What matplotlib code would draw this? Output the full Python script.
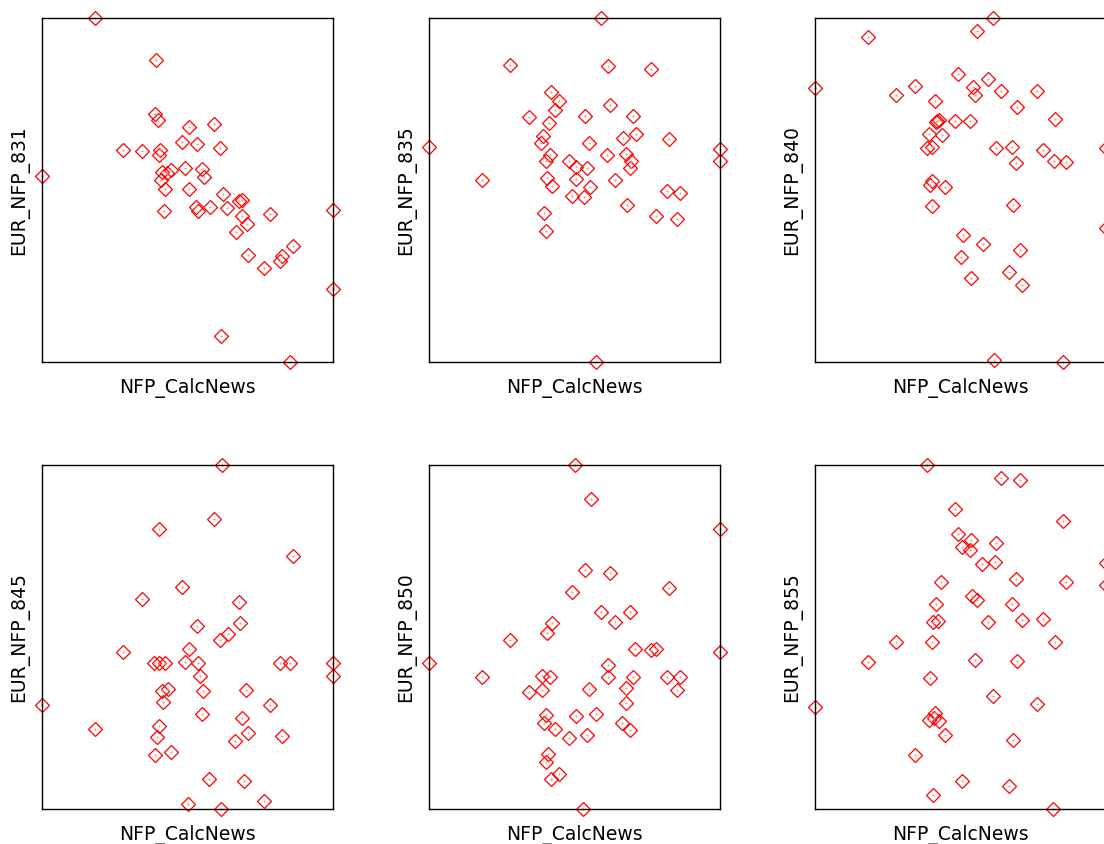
import matplotlib
matplotlib.use("Agg")
import matplotlib.pyplot as plt

# NFP_CalcNews vs EUR_NFP_xxx
news_831 = [-92, -31, -32, -29, 1, 26, -5, 9, 32, -64, -45, -27, -28, -25, -20, -16, -26, -22, -2, 14, 16, 1,
            -23, 8, 10, 22, 35, 39, 51, 54, 54, 59, 48, 82, 145, 60, 76, 94, 92, 105, 145, 33, 102, -145]
eur_831 = [172, 130, 76, 70, 63, 66, 48, 46, 42, 40, 39, 40, 35, 18, 17, 20, 10, 1, 22, 21, 13, 1,
           -20, -16, -20, -16, -3, -17, -10, -9, -25, -33, -41, -23, -19, -64, -77, -65, -70, -55, -98, -145, -171, 14]

news_835 = [25, -65, 32, 75, -24, -16, -20, 34, -46, 9, -26, 57, -32, -34, 47, 60, 93, -146, 13, 144, 144, -25, -29,
            -6, 0, 11, 31, 50, 55, 54, -93, -28, -23, 0, 14, 8, -3, 39, 91, 104, 51, 80, 101, -31, -29, 20]
eur_835 = [172, 125, 124, 121, 98, 89, 80, 85, 73, 74, 67, 74, 54, 47, 52, 56, 51, 43, 47, 41, 29, 35, 29,
           29, 23, 22, 35, 36, 29, 22, 10, 12, 4, 11, 3, -6, -5, 10, 0, -2, -14, -25, -28, -22, -40, -171]

news_840 = [31, 15, -93, -146, -3, 26, 11, 13, 39, 75, -65, -46, -26, 55, 93, -25, -24, -22, -6, 8, -32, -19, -34,
            -29, 34, 50, 81, 54, 92, 104, 144, -29, -31, -16, -29, 51, 1, 21, 58, -1, 47, 9, 60, 144, 32, 101]
eur_840 = [172, 159, 153, 102, 116, 111, 103, 95, 99, 99, 95, 104, 89, 83, 71, 68, 69, 70, 69, 69, 56, 55, 42,
           43, 42, 43, 40, 27, 29, 28, 42, 9, 5, 3, -15, -14, -44, -53, -59, -66, -81, -87, -94, -37, -169, -171]

news_845 = [34, 26, -28, 105, -5, -45, 51, 52, 9, 32, 40, -64, 1, -33, -28, -22, -2, 10, 12, 92, 102, 145, 145,
            -25, -19, -24, 15, 58, -145, 82, 14, 54, -28, -30, -92, 60, 47, 94, -32, -16, 21, 56, 76, 0, 33]
eur_845 = [172, 118, 108, 81, 50, 38, 35, 14, 11, -2, 3, -14, -11, -25, -25, -25, -24, -25, -38, -25, -25, -25, -38,
           -53, -51, -64, -53, -52, -67, -67, -76, -80, -88, -99, -91, -95, -103, -98, -117, -114, -141, -143, -163, -166, -171]

news_850 = [-1, 15, 144, 9, 34, 93, -3, 25, 54, 39, -23, -28, -65, 59, 75, 80, 144, -146, 32, 32, 57, -33, -25,
            -93, 91, 104, -33, -46, 13, 50, 101, 50, -29, -31, -20, 0, 20, 46, 54, -6, 11, -27, -29, -16, -24, 7]
eur_850 = [172, 138, 108, 67, 64, 49, 45, 25, 25, 15, 14, 4, -2, -11, -12, -11, -14, -25, -27, -39, -39, -38, -39,
           -39, -39, -39, -52, -54, -51, -50, -52, -65, -77, -85, -91, -78, -76, -85, -92, -100, -97, -116, -124, -136, -141, -171]

news_855 = [-34, 39, 58, -6, 101, -3, 9, 0, 8, 34, 20, 33, 144, 144, -20, 54, 104, 10, 15, -25, 50, -28, -23, 26,
            60, 81, -65, -29, 93, -93, 13, 55, -31, -146, 31, 75, -26, -32, -22, -27, -16, 51, -46, 0, 47, -28, 91]
eur_855 = [172, 159, 157, 128, 116, 103, 97, 90, 87, 94, 73, 75, 74, 52, 55, 58, 55, 41, 37, 33, 33, 15, 16, 15,
           17, 18, -4, -4, -4, -24, -22, -23, -40, -69, -58, -66, -75, -82, -83, -80, -97, -102, -117, -143, -148, -157, -171]

panels = [("EUR_NFP_831", news_831, eur_831), ("EUR_NFP_835", news_835, eur_835),
          ("EUR_NFP_840", news_840, eur_840), ("EUR_NFP_845", news_845, eur_845),
          ("EUR_NFP_850", news_850, eur_850), ("EUR_NFP_855", news_855, eur_855)]

fig = plt.figure(figsize=(11.04, 8.44), dpi=100)

lefts = [42, 429, 815]
tops = [18, 465]
w, h = 291, 344

for i, (name, x, y) in enumerate(panels):
    l = lefts[i % 3]
    t = tops[i // 3]
    ax = fig.add_axes([l / 1104, 1 - (t + h) / 844, w / 1104, h / 844])
    ax.plot(x, y, 'D', mfc='none', mec='red', ms=7.6, mew=0.9, clip_on=False)
    ax.plot(x, y, '.', color='#ff9090', ms=1.2, clip_on=False)
    ax.set_xlim(min(x), max(x))
    ax.set_ylim(min(y), max(y))
    ax.set_xticks([])
    ax.set_yticks([])
    for s in ax.spines.values():
        s.set_linewidth(1.0)
    ax.set_xlabel("NFP_CalcNews", fontsize=13.5, labelpad=11.5)
    ax.set_ylabel(name, fontsize=13.5, labelpad=9)

fig.savefig("out.png", dpi=100)
